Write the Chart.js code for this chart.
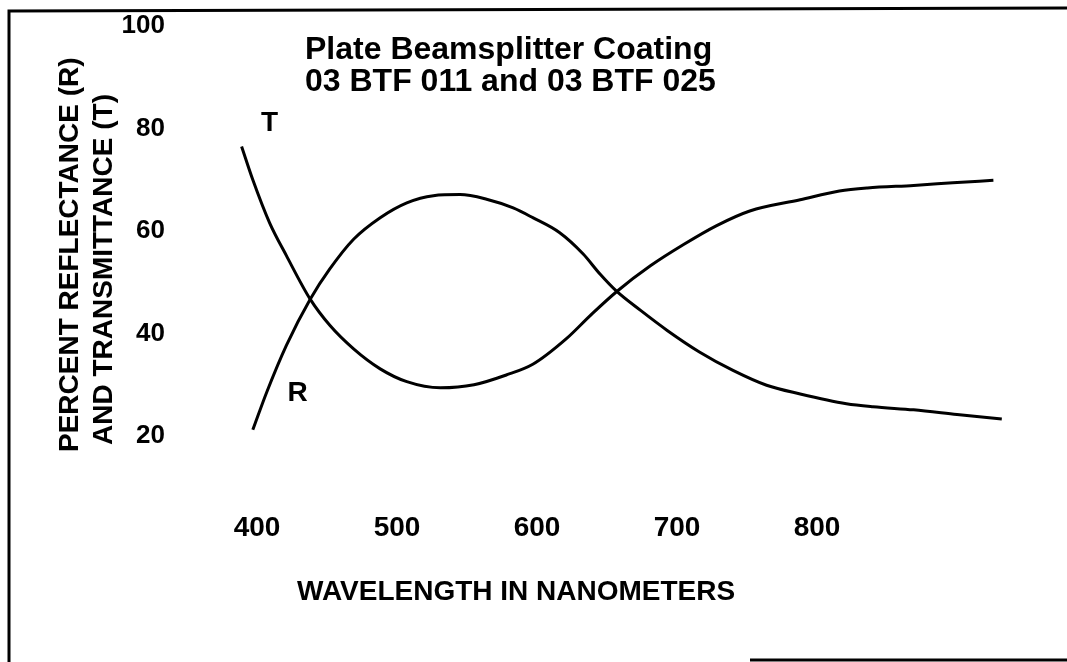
<!DOCTYPE html>
<html lang="en">
<head>
<meta charset="UTF-8">
<title>Plate Beamsplitter Coating</title>
<script src="https://cdn.jsdelivr.net/npm/chart.js@4.4.1/dist/chart.umd.min.js"></script>
<style>
  html, body { margin: 0; padding: 0; background: #fff; }
  #wrap { position: relative; width: 1067px; height: 662px; }
</style>
</head>
<body>
<div id="wrap"><canvas id="coatingChart"></canvas></div>
<script>
// --- Data ---
const xTicks = [400, 500, 600, 700, 800];
const yTicks = [20, 40, 60, 80, 100];

// Transmittance curve
const tWavelengths = [389, 397, 409, 421, 438, 452, 469, 488, 507, 531, 555, 578, 597, 621, 638, 657, 681, 705, 728, 752, 788, 816, 836, 869, 897, 926];
const tPercent = [76.5, 70.0, 61.6, 55.2, 46.7, 41.6, 37.0, 33.1, 30.6, 29.4, 30.0, 31.9, 34.0, 39.0, 43.5, 48.2, 53.2, 57.4, 61.0, 63.9, 66.1, 67.8, 68.4, 68.9, 69.4, 69.9];

// Reflectance curve
const rWavelengths = [397, 407, 421, 438, 452, 469, 488, 507, 526, 545, 564, 583, 597, 616, 633, 645, 657, 674, 693, 716, 740, 764, 788, 821, 840, 869, 900, 932];
const rPercent = [21.2, 28.6, 37.7, 46.7, 52.6, 58.4, 62.6, 65.5, 66.9, 67.1, 66.2, 64.5, 62.6, 59.7, 55.5, 51.6, 48.2, 44.5, 40.6, 36.4, 32.8, 29.9, 28.2, 26.3, 25.7, 25.1, 24.2, 23.3];

// Curve tags, placed in data units
const labelNames = ['T', 'R'];
const labelWavelengths = [409, 429];
const labelPercent = [81, 28.4];

const titleLines = ['Plate Beamsplitter Coating', '03 BTF 011 and 03 BTF 025'];
const yTitleLines = ['PERCENT REFLECTANCE (R)', 'AND TRANSMITTANCE (T)'];
const xTitle = 'WAVELENGTH IN NANOMETERS';

const FONT = '"Liberation Sans", Arial, Helvetica, sans-serif';

// --- Frame + text drawn straight on the canvas ---
const paperPlugin = {
    id: 'paper',
    beforeDraw: (chart) => {
        const ctx = chart.ctx;
        ctx.save();
        ctx.fillStyle = '#fff';
        ctx.fillRect(0, 0, chart.width, chart.height);

        // scanned frame: left and top edges, only part of the bottom one survived
        ctx.strokeStyle = '#000';
        ctx.lineWidth = 3;
        ctx.beginPath();
        ctx.moveTo(9, 662);
        ctx.lineTo(9, 11);
        ctx.lineTo(1067, 8);
        ctx.moveTo(750, 660);
        ctx.lineTo(1067, 660);
        ctx.stroke();
        ctx.restore();
    },
    afterDraw: (chart) => {
        const { ctx, scales: { x, y } } = chart;
        ctx.save();
        ctx.fillStyle = '#000';
        ctx.textAlign = 'left';
        ctx.textBaseline = 'alphabetic';

        ctx.font = `bold 32px ${FONT}`;
        titleLines.forEach((line, i) => ctx.fillText(line, 305, 59 + i * 32));

        ctx.font = `bold 28px ${FONT}`;
        ctx.fillText(xTitle, 297, 600);

        yTitleLines.forEach((line, i) => {
            ctx.save();
            ctx.translate(78 + i * 34, 452 - i * 7);
            ctx.rotate(-Math.PI / 2);
            ctx.fillText(line, 0, 0);
            ctx.restore();
        });

        ctx.textAlign = 'center';
        ctx.textBaseline = 'middle';
        labelNames.forEach((name, i) => {
            ctx.fillText(name, x.getPixelForValue(labelWavelengths[i]), y.getPixelForValue(labelPercent[i]));
        });
        ctx.restore();
    }
};

const lineStyle = {
    borderColor: '#000',
    borderWidth: 3,
    pointRadius: 0,
    fill: false,
    cubicInterpolationMode: 'monotone'
};

const ctx = document.getElementById('coatingChart').getContext('2d');
new Chart(ctx, {
    type: 'line',
    data: {
        datasets: [
            { label: 'T', data: tWavelengths.map((w, i) => ({ x: w, y: tPercent[i] })), ...lineStyle },
            { label: 'R', data: rWavelengths.map((w, i) => ({ x: w, y: rPercent[i] })), ...lineStyle }
        ]
    },
    options: {
        responsive: true,
        maintainAspectRatio: false,
        animation: false,
        layout: { padding: { top: 26, right: 54, bottom: 0, left: 0 } },
        plugins: {
            legend: { display: false },
            tooltip: { enabled: false }
        },
        scales: {
            x: {
                type: 'linear',
                min: 385,
                max: 940,
                afterBuildTicks: (axis) => { axis.ticks = xTicks.map(v => ({ value: v })); },
                afterFit: (axis) => { axis.height = 226; },
                grid: { display: false, drawTicks: false },
                border: { display: false },
                ticks: { padding: 75, color: '#000', font: { family: FONT, size: 28, weight: 'bold' } }
            },
            y: {
                type: 'linear',
                min: 20,
                max: 100,
                afterBuildTicks: (axis) => { axis.ticks = yTicks.map(v => ({ value: v })); },
                afterFit: (axis) => {
                    axis.width = 236;
                    // big label gap should not push the plot area down
                    axis.paddingTop = 0;
                    axis.paddingBottom = 0;
                },
                grid: { display: false, drawTicks: false },
                border: { display: false },
                ticks: { padding: 71, color: '#000', font: { family: FONT, size: 26, weight: 'bold' } }
            }
        }
    },
    plugins: [paperPlugin]
});
</script>
</body>
</html>
